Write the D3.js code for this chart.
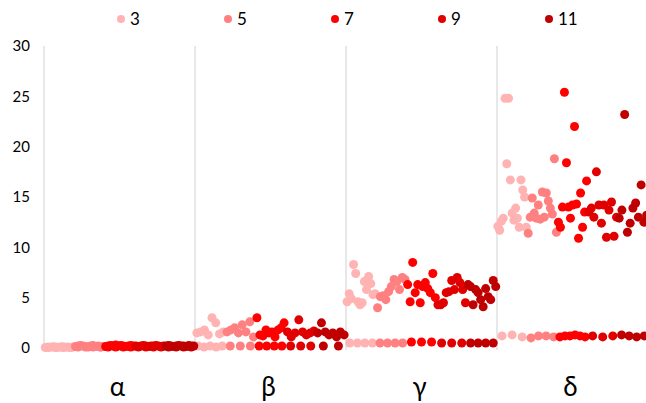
<!DOCTYPE html>
<html>
<head>
<meta charset="utf-8">
<script src="https://cdn.jsdelivr.net/npm/d3@7/dist/d3.min.js"></script>
<style>
  html, body { margin: 0; padding: 0; background: #fff; }
  svg { display: block; font-family: Lato, "Open Sans", sans-serif; }
</style>
</head>
<body>
<svg id="chart" width="646" height="403"></svg>
<script>
// Categories along the x axis and the five series shown in the legend
const groups = ["α", "β", "γ", "δ"];
const seriesNames = ["3", "5", "7", "9", "11"];
const seriesColors = ["#FFB3B3", "#FF8080", "#FF0000", "#E00000", "#C00000"];
const yTicks = [0, 5, 10, 15, 20, 25, 30];

// Upper cluster of each series, one list per category (α, β, γ, δ)
const upper3 = [
  [0.05, 0.1, 0.08, 0.12, 0.1, 0.06, 0.1, 0.12, 0.08, 0.1, 0.05, 0.1],
  [1.5, 1.6, 1.8, 1.3, 3.0, 2.5, 1.4, 1.6],
  [4.6, 5.4, 4.9, 8.3, 7.4, 4.6, 4.3, 4.5, 6.6, 5.8, 7.1, 6.4, 5.3, 5.4],
  [12.1, 11.7, 12.6, 12.9, 24.8, 18.3, 24.8, 16.7, 13.4, 12.7, 13.9, 12.9, 12.0, 16.7, 15.7, 15.0, 12.0]
];
const upper5 = [
  [0.15, 0.2, 0.25, 0.2, 0.15, 0.1, 0.2, 0.25, 0.15, 0.2, 0.1, 0.15],
  [1.6, 1.8, 2.0, 1.5, 2.3, 1.6, 2.6, 1.1],
  [4.0, 5.1, 5.2, 4.8, 5.6, 6.1, 6.8, 6.6, 5.8, 7.0, 6.8],
  [11.4, 13.0, 14.9, 13.4, 12.9, 14.2, 12.8, 15.5, 13.0, 15.4, 14.6, 13.9, 13.3, 18.8, 11.5]
];
const upper7 = [
  [0.15, 0.2, 0.25, 0.2, 0.3, 0.2, 0.25, 0.2, 0.15, 0.2, 0.25, 0.2],
  [3.0, 1.3, 1.2, 1.8, 1.5, 1.6, 1.1, 1.8, 2.0, 2.5],
  [6.3, 4.6, 8.5, 5.5, 6.3, 4.5, 6.1, 6.5, 5.9, 5.5, 7.4, 5.0],
  [12.5, 12.0, 14.0, 25.4, 18.4, 14.0, 12.9, 14.2, 22.0, 14.3, 10.9, 15.4, 12.0, 13.5, 16.6]
];
const upper9 = [
  [0.2, 0.15, 0.2, 0.25, 0.2, 0.15, 0.2, 0.2, 0.25, 0.2, 0.15, 0.2],
  [1.6, 1.1, 1.5, 2.8, 1.6, 1.3, 1.5, 1.7],
  [4.3, 4.3, 4.5, 5.5, 5.6, 6.7, 5.8, 7.0, 6.5, 5.8, 4.5],
  [13.5, 13.9, 13.0, 17.5, 14.2, 12.4, 14.2, 11.0, 13.7, 14.5, 11.1, 13.0]
];
const upper11 = [
  [0.2, 0.25, 0.2, 0.15, 0.2, 0.25, 0.2, 0.2, 0.15, 0.25, 0.2, 0.2],
  [1.5, 2.5, 1.6, 1.3, 1.5, 1.1, 1.6, 1.3],
  [6.3, 6.1, 4.3, 5.8, 5.5, 4.8, 4.1, 5.9, 5.1, 4.8, 6.7, 6.1],
  [12.9, 13.7, 23.2, 11.5, 12.4, 13.9, 14.4, 13.0, 16.2, 12.5, 13.2]
];

// Lower cluster of each series, one list per category
const lower3 = [[0.05, 0.05, 0.05, 0.05], [0.2, 0.1, 0.2, 0.1, 0.2], [0.5, 0.5, 0.5, 0.5], [1.2, 1.3, 1.1]];
const lower5 = [[0.1, 0.1, 0.1, 0.1], [0.2, 0.2, 0.2], [0.5, 0.5, 0.5, 0.5], [1.0, 1.2, 1.2, 1.1]];
const lower7 = [[0.1, 0.1, 0.1, 0.1], [0.2, 0.2, 0.2, 0.2], [0.6, 0.6, 0.6], [1.1, 1.2, 1.2, 1.3, 1.2, 1.1]];
const lower9 = [[0.1, 0.1, 0.1, 0.1], [0.2, 0.2, 0.2], [0.5, 0.5, 0.5], [1.2, 1.1, 1.2]];
const lower11 = [[0.1, 0.1, 0.1, 0.1], [0.2, 0.2], [0.5, 0.5, 0.5, 0.5], [1.3, 1.2, 1.1, 1.2]];

const upperSets = [upper3, upper5, upper7, upper9, upper11];
const lowerSets = [lower3, lower5, lower7, lower9, lower11];

const svg = d3.select("#chart");

// Each category spans one unit; inside it the five series sit side by side
const x = d3.scaleLinear().domain([0, 4]).range([44, 648]);
const y = d3.scaleLinear().domain([0, 30]).range([348, 46]);

// Category separators
svg.append("g")
  .selectAll("line")
  .data(d3.range(0, 5))
  .join("line")
  .attr("x1", d => x(d)).attr("x2", d => x(d))
  .attr("y1", y(30)).attr("y2", y(0) + 2)
  .attr("stroke", "#D0D0D0")
  .attr("stroke-width", 1);

// Value axis
const yAxis = svg.append("g")
  .attr("transform", "translate(36,0)")
  .call(d3.axisLeft(y).tickValues(yTicks).tickSize(0).tickPadding(0));
yAxis.select(".domain").remove();
yAxis.selectAll("text")
  .attr("font-family", "Lato, 'Open Sans', sans-serif")
  .attr("font-size", 15)
  .attr("fill", "#000")
  .attr("dx", -6);

// Category labels
svg.append("g")
  .selectAll("text")
  .data(groups)
  .join("text")
  .attr("x", (d, i) => x(i + 0.5) - 2)
  .attr("y", 396)
  .attr("text-anchor", "middle")
  .attr("font-size", 26)
  .attr("fill", "#000")
  .text(d => d);

// Point positions: category + series slot + evenly spaced index within the slot
function pointsFor(sets, s) {
  const pts = [];
  sets[s].forEach((vals, g) => {
    const n = vals.length;
    vals.forEach((v, i) => {
      pts.push({ px: g + (s + (i + 0.5) / n) / 5, v });
    });
  });
  return pts;
}

const plot = svg.append("g");
seriesNames.forEach((name, s) => {
  const pts = pointsFor(lowerSets, s).concat(pointsFor(upperSets, s));
  plot.append("g")
    .attr("fill", seriesColors[s])
    .selectAll("circle")
    .data(pts)
    .join("circle")
    .attr("cx", d => x(d.px))
    .attr("cy", d => y(d.v))
    .attr("r", 4.5);
});

// Legend
const legend = svg.append("g")
  .selectAll("g")
  .data(seriesNames)
  .join("g")
  .attr("transform", (d, i) => `translate(${121 + i * 107},19)`);
legend.append("circle")
  .attr("r", 4)
  .attr("fill", (d, i) => seriesColors[i]);
legend.append("text")
  .attr("x", 9)
  .attr("dy", "0.36em")
  .attr("font-size", 17)
  .attr("fill", "#000")
  .text(d => d);
</script>
</body>
</html>
